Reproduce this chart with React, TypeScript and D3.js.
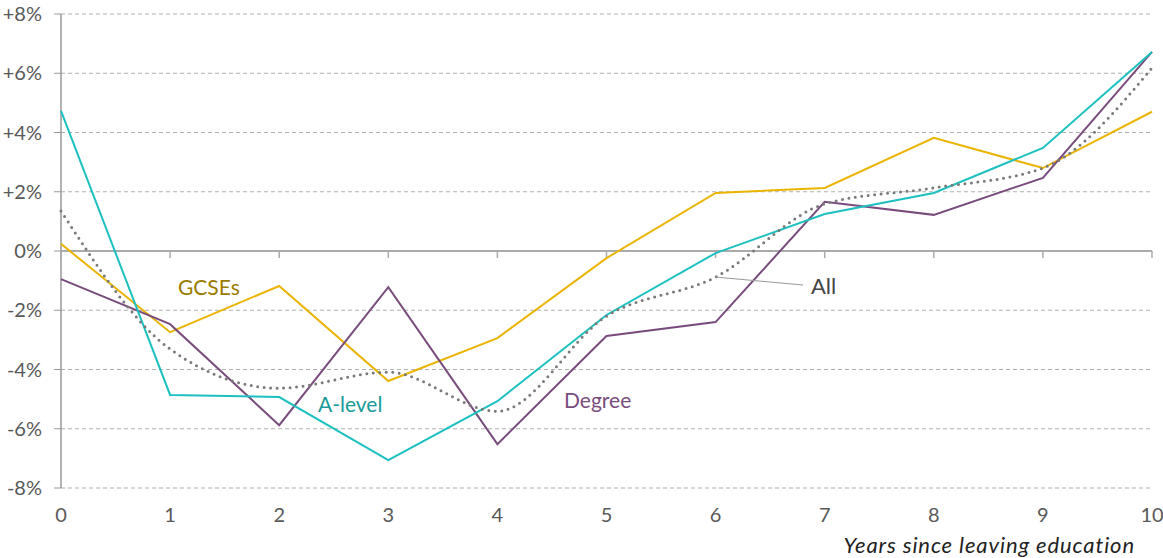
import React from "react";
import * as d3 from "d3";

const years = [0, 1, 2, 3, 4, 5, 6, 7, 8, 9, 10];
const aLevel = [4.73, -4.86, -4.93, -7.06, -5.07, -2.16, -0.07, 1.25, 1.96, 3.48, 6.72];
const gcses = [0.24, -2.74, -1.18, -4.39, -2.94, -0.24, 1.96, 2.13, 3.82, 2.8, 4.7];
const degree = [-0.95, -2.47, -5.88, -1.22, -6.52, -2.87, -2.4, 1.66, 1.22, 2.47, 6.72];
const all = [1.35, -3.31, -4.63, -4.09, -5.41, -2.2, -0.88, 1.59, 2.13, 2.8, 6.18];
const yTicks = [-8, -6, -4, -2, 0, 2, 4, 6, 8];

const W = 1163;
const H = 558;
const FONT = "Lato, 'Open Sans', sans-serif";

export default function App() {
  const x = d3.scaleLinear().domain([0, 10]).range([61, 1152]);
  const y = d3.scaleLinear().domain([-8, 8]).range([488, 14]);
  const line = d3
    .line<number>()
    .x((_, i) => x(years[i]))
    .y((d) => y(d));
  const smooth = d3
    .line<number>()
    .x((_, i) => x(years[i]))
    .y((d) => y(d))
    .curve(d3.curveMonotoneX);

  const fmt = (v: number) => (v > 0 ? `+${v}%` : `${v}%`);

  return (
    <svg
      width={W}
      height={H}
      style={{ position: "absolute", left: 0, top: 0 }}
      fontFamily={FONT}
    >
      {yTicks.map((t) => (
        <g key={t}>
          {t !== 0 && (
            <line
              x1={x(0)}
              x2={1150}
              y1={y(t)}
              y2={y(t)}
              stroke="#b0b0b0"
              strokeDasharray="4 3"
              strokeWidth={1}
            />
          )}
          <line x1={54} x2={x(0)} y1={y(t)} y2={y(t)} stroke="#999" strokeWidth={1} />
          <text
            x={42}
            y={y(t) + 7}
            textAnchor="end"
            fontSize={20}
            fill="#595959"
          >
            {fmt(t)}
          </text>
        </g>
      ))}
      <line x1={x(0)} x2={x(0)} y1={y(8)} y2={y(-8)} stroke="#999" strokeWidth={1.5} />
      <line x1={x(0)} x2={x(10)} y1={y(0)} y2={y(0)} stroke="#aaa" strokeWidth={2} />
      {years.map((yr) => (
        <g key={yr}>
          <line x1={x(yr)} x2={x(yr)} y1={y(0)} y2={y(0) + 7} stroke="#aaa" strokeWidth={1.5} />
          <text
            x={x(yr)}
            y={522}
            textAnchor="middle"
            fontSize={20}
            fill="#595959"
          >
            {yr}
          </text>
        </g>
      ))}
      <text
        x={1135}
        y={553}
        textAnchor="end"
        fontSize={22}
        fontStyle="italic"
        letterSpacing={0.9}
        fill="#222"
      >
        Years since leaving education
      </text>

      <path d={line(gcses) || ""} fill="none" stroke="#ebb400" strokeWidth={2} />
      <path d={line(degree) || ""} fill="none" stroke="#7a4c7e" strokeWidth={2} />
      <path d={line(aLevel) || ""} fill="none" stroke="#1cc0c0" strokeWidth={2} />
      <path
        d={smooth(all) || ""}
        fill="none"
        stroke="#7a7a7a"
        strokeWidth={3}
        strokeDasharray="0 6.5"
        strokeLinecap="round"
      />

      <line x1={x(6)} y1={y(all[6])} x2={803} y2={285} stroke="#999" strokeWidth={1} />
      <text x={811} y={294} fontSize={22} fill="#444">All</text>
      <text x={178} y={295} fontSize={21} fill="#9b7a00">GCSEs</text>
      <text x={318} y={412} fontSize={21} fill="#1a9a9a">A-level</text>
      <text x={564} y={408} fontSize={21} fill="#7a4c7e">Degree</text>
    </svg>
  );
}
